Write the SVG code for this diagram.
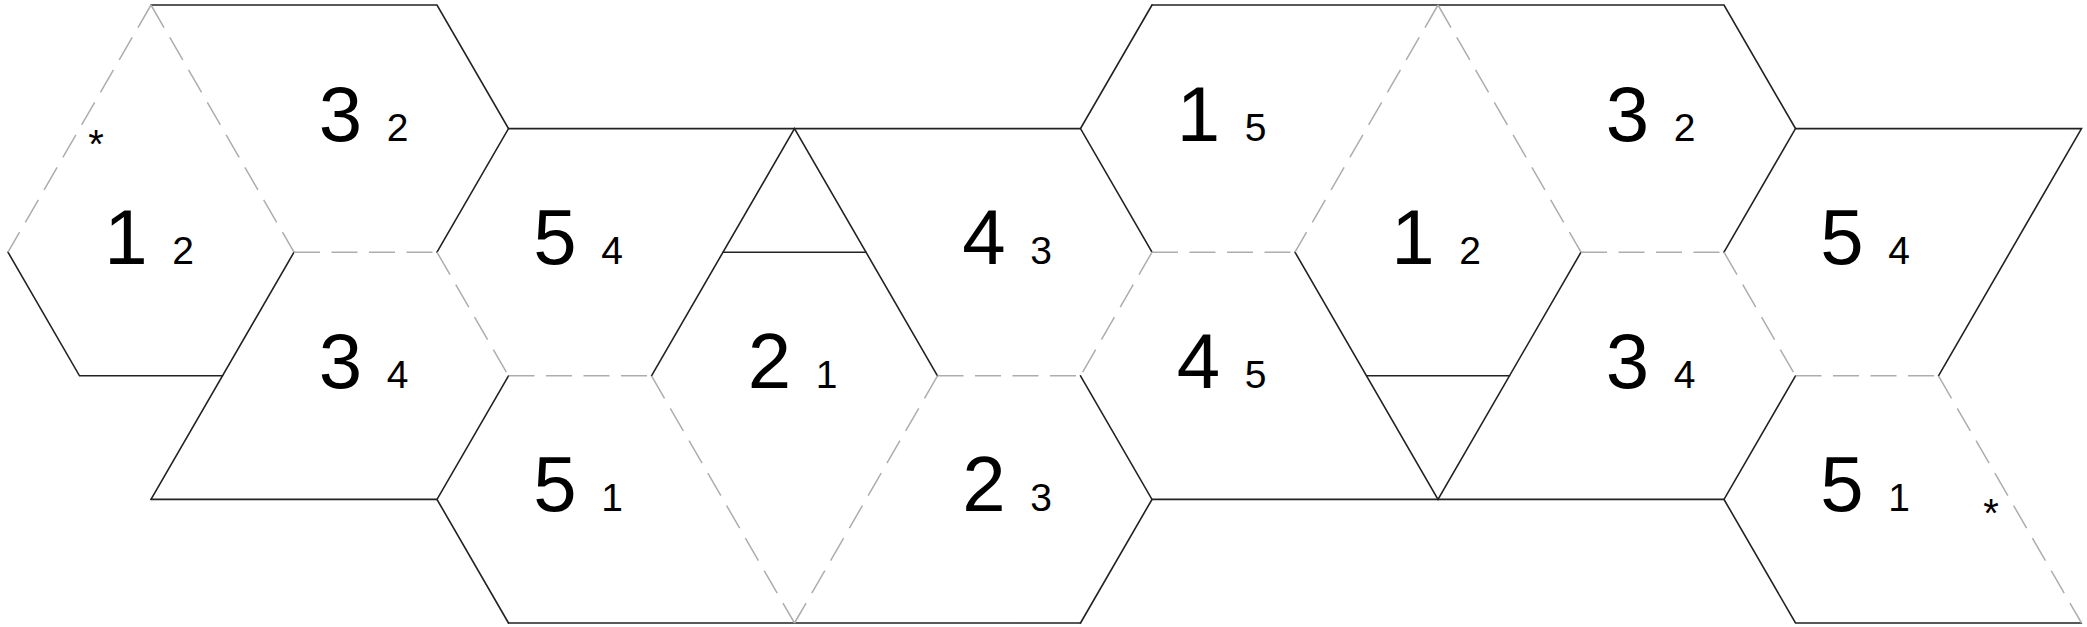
<svg xmlns="http://www.w3.org/2000/svg" width="2087" height="627" viewBox="0 0 2087 627">
<style>
.s{fill:none;stroke:#222;stroke-width:1.6;stroke-linecap:round}
.d{fill:none;stroke:#adadad;stroke-width:1.5;stroke-dasharray:26 11.5}
.b{font-family:"Liberation Sans",Arial,sans-serif;font-size:78px;fill:#000;text-anchor:middle}
.m{font-family:"Liberation Sans",Arial,sans-serif;font-size:39px;fill:#000;text-anchor:middle}
.a{font-family:"Liberation Sans",Arial,sans-serif;font-size:40px;fill:#000;text-anchor:middle}
</style>
<rect x="0" y="0" width="2087" height="627" fill="#fff"/>
<g id="connectors">
<g id="solid-edges" class="s">
<path d="M8 252.2 L79.5 375.8 L222.5 375.8"/>
<path d="M151 499.4 L294 252.2"/>
<path d="M151 5 L437 5 L508.5 128.6 L437 252.2"/>
<path d="M508.5 375.8 L437 499.4 L508.5 623"/>
<path d="M151 499.4 L437 499.4"/>
<path d="M508.5 128.6 L1080.5 128.6"/>
<path d="M651.5 375.8 L794.5 128.6 L937.5 375.8"/>
<path d="M723 252.2 L866 252.2"/>
<path d="M508.5 623 L1080.5 623"/>
<path d="M1152 5 L1080.5 128.6 L1152 252.2"/>
<path d="M1152 5 L1724 5 L1795.5 128.6 L1724 252.2"/>
<path d="M1080.5 375.8 L1152 499.4 L1080.5 623"/>
<path d="M1152 499.4 L1724 499.4"/>
<path d="M1295 252.2 L1438 499.4 L1581 252.2"/>
<path d="M1366.5 375.8 L1509.5 375.8"/>
<path d="M1795.5 375.8 L1724 499.4 L1795.5 623 L2081.5 623"/>
<path d="M1795.5 128.6 L2081.5 128.6 L1938.5 375.8"/>
</g>
<g id="fold-edges" class="d">
<path d="M151 5 L8 252.2"/>
<path d="M151 5 L294 252.2"/>
<path d="M294 252.2 L437 252.2"/>
<path d="M437 252.2 L508.5 375.8"/>
<path d="M508.5 375.8 L651.5 375.8"/>
<path d="M651.5 375.8 L794.5 623"/>
<path d="M937.5 375.8 L794.5 623"/>
<path d="M937.5 375.8 L1080.5 375.8"/>
<path d="M1152 252.2 L1080.5 375.8"/>
<path d="M1152 252.2 L1295 252.2"/>
<path d="M1438 5 L1295 252.2"/>
<path d="M1438 5 L1581 252.2"/>
<path d="M1581 252.2 L1724 252.2"/>
<path d="M1724 252.2 L1795.5 375.8"/>
<path d="M1795.5 375.8 L1938.5 375.8"/>
<path d="M1938.5 375.8 L2081.5 623"/>
</g>
</g>
<g id="face-1-2-left"><text class="b" x="126" y="264.2">1</text><text class="m" x="183" y="264.2">2</text><text class="a" x="96" y="158">*</text></g>
<g id="face-3-2-left"><text class="b" x="340.5" y="140.6">3</text><text class="m" x="397.5" y="140.6">2</text></g>
<g id="face-5-4-left"><text class="b" x="555" y="264.2">5</text><text class="m" x="612" y="264.2">4</text></g>
<g id="face-3-4-left"><text class="b" x="340.5" y="387.8">3</text><text class="m" x="397.5" y="387.8">4</text></g>
<g id="face-5-1-left"><text class="b" x="555" y="511.4">5</text><text class="m" x="612" y="511.4">1</text></g>
<g id="face-2-1"><text class="b" x="769.5" y="387.8">2</text><text class="m" x="826.5" y="387.8">1</text></g>
<g id="face-4-3"><text class="b" x="984" y="264.2">4</text><text class="m" x="1041" y="264.2">3</text></g>
<g id="face-2-3"><text class="b" x="984" y="511.4">2</text><text class="m" x="1041" y="511.4">3</text></g>
<g id="face-1-5"><text class="b" x="1198.5" y="140.6">1</text><text class="m" x="1255.5" y="140.6">5</text></g>
<g id="face-4-5"><text class="b" x="1198.5" y="387.8">4</text><text class="m" x="1255.5" y="387.8">5</text></g>
<g id="face-1-2-right"><text class="b" x="1413" y="264.2">1</text><text class="m" x="1470" y="264.2">2</text></g>
<g id="face-3-2-right"><text class="b" x="1627.5" y="140.6">3</text><text class="m" x="1684.5" y="140.6">2</text></g>
<g id="face-5-4-right"><text class="b" x="1842" y="264.2">5</text><text class="m" x="1899" y="264.2">4</text></g>
<g id="face-3-4-right"><text class="b" x="1627.5" y="387.8">3</text><text class="m" x="1684.5" y="387.8">4</text></g>
<g id="face-5-1-right"><text class="b" x="1842" y="511.4">5</text><text class="m" x="1899" y="511.4">1</text><text class="a" x="1991" y="527">*</text></g>
</svg>
